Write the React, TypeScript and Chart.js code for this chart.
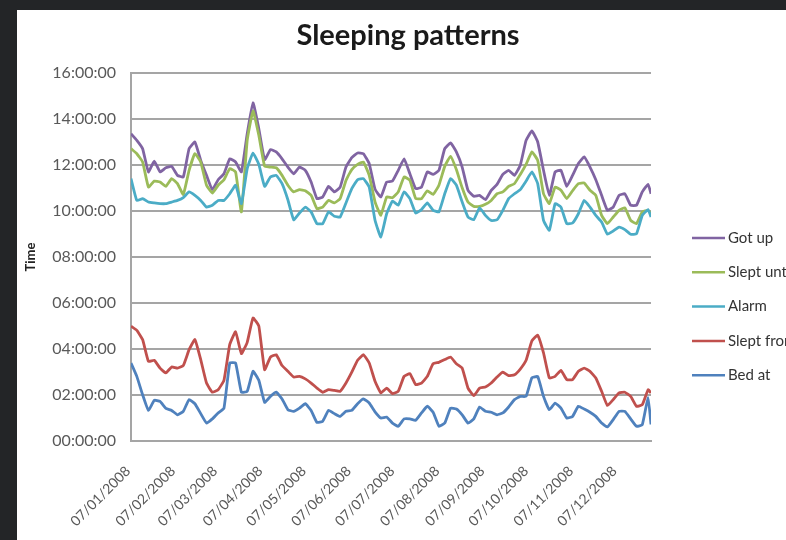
import React, { useEffect, useRef } from 'react';
import { Chart, registerables } from 'chart.js';

Chart.register(...registerables);

// Day index counted from 07/01/2008 (day 0), sampled every 4 days
const days = [
  0, 4, 8, 12, 16, 20, 24, 28, 32, 36, 40, 44, 48, 52, 56, 60, 64, 68, 72, 76,
  80, 84, 88, 92, 96, 100, 104, 108, 112, 116, 120, 124, 128, 132, 136, 140, 144, 148, 152, 156,
  160, 164, 168, 172, 176, 180, 184, 188, 192, 196, 200, 204, 208, 212, 216, 220, 224, 228, 232, 236,
  240, 244, 248, 252, 256, 260, 264, 268, 272, 276, 280, 284, 288, 292, 296, 300, 304, 308, 312, 316,
  320, 324, 328, 332, 336, 340, 344, 348, 352, 356, 358,
];

// Values in hours of the day
const gotUp = [
  13.36, 13.07, 12.71, 11.7, 12.17, 11.7, 11.88, 11.94, 11.55, 11.48, 12.71, 13.0, 12.2, 11.55, 10.93, 11.36, 11.62, 12.27, 12.13, 11.7,
  13.36, 14.7, 13.58, 12.23, 12.67, 12.57, 12.27, 11.91, 11.62, 11.91, 11.77, 11.26, 10.54, 10.61, 11.07, 10.83, 11.04, 11.91, 12.32, 12.52,
  12.49, 12.06, 10.95, 10.61, 11.26, 11.3, 11.77, 12.27, 11.62, 10.97, 11.04, 11.7, 11.59, 11.77, 12.71, 12.96, 12.57, 11.91, 10.9, 10.64,
  10.68, 10.49, 10.9, 11.16, 11.59, 11.77, 11.55, 11.99, 13.07, 13.48, 13.0, 11.77, 10.68, 11.7, 11.77, 11.07, 11.55, 12.06, 12.35, 11.91,
  11.36, 10.68, 10.03, 10.17, 10.68, 10.75, 10.25, 10.25, 10.83, 11.16, 10.75,
];

const sleptUntil = [
  12.71, 12.49, 12.13, 11.04, 11.3, 11.26, 11.07, 11.41, 11.19, 10.72, 11.77, 12.49, 12.13, 11.12, 10.78, 11.12, 11.36, 11.84, 11.7, 9.96,
  13.07, 14.35, 13.29, 11.94, 11.91, 11.88, 11.55, 11.12, 10.83, 10.93, 10.88, 10.68, 10.1, 10.17, 10.46, 10.35, 10.54, 11.33, 11.8, 12.03,
  12.13, 11.55, 10.4, 9.81, 10.61, 10.58, 10.83, 11.48, 11.33, 10.54, 10.54, 10.88, 10.72, 11.12, 11.94, 12.38, 11.8, 11.01, 10.39, 10.2,
  10.2, 10.29, 10.46, 10.75, 10.83, 11.07, 11.19, 11.59, 12.03, 12.57, 12.2, 10.75, 10.32, 11.04, 10.9, 10.54, 10.88, 11.19, 11.22, 10.9,
  10.68, 9.81, 9.45, 9.74, 10.03, 10.14, 9.59, 9.45, 9.96, 10.03, 9.88,
];

const alarm = [
  11.41, 10.46, 10.54, 10.39, 10.35, 10.32, 10.32, 10.39, 10.46, 10.58, 10.83, 10.68, 10.46, 10.17, 10.25, 10.46, 10.46, 10.75, 11.12, 10.32,
  11.84, 12.52, 12.03, 11.07, 11.48, 11.55, 11.19, 10.49, 9.62, 9.91, 10.17, 9.96, 9.45, 9.45, 9.96, 9.77, 9.74, 10.35, 10.97, 11.36,
  11.41, 11.04, 9.6, 8.87, 9.88, 10.43, 10.25, 10.83, 10.54, 9.91, 10.06, 10.35, 10.03, 9.96, 10.75, 11.41, 11.12, 10.39, 9.74, 9.62,
  10.14, 9.81, 9.59, 9.62, 10.03, 10.54, 10.75, 10.93, 11.3, 11.7, 11.19, 9.59, 9.16, 10.32, 10.17, 9.45, 9.48, 9.88, 10.46, 10.17,
  9.81, 9.52, 8.99, 9.13, 9.3, 9.19, 8.99, 9.01, 9.81, 10.06, 9.74,
];

const sleptFrom = [
  4.99, 4.81, 4.41, 3.46, 3.51, 3.17, 2.96, 3.22, 3.17, 3.28, 3.97, 4.41, 3.54, 2.52, 2.12, 2.23, 2.64, 4.2, 4.75, 3.8,
  4.29, 5.35, 5.0, 3.1, 3.65, 3.75, 3.28, 3.03, 2.78, 2.81, 2.7, 2.52, 2.3, 2.12, 2.23, 2.2, 2.16, 2.52, 2.99, 3.51,
  3.75, 3.39, 2.6, 2.09, 2.3, 2.06, 2.16, 2.81, 2.93, 2.45, 2.52, 2.81, 3.36, 3.42, 3.54, 3.65, 3.36, 3.17, 2.3, 1.97,
  2.3, 2.35, 2.52, 2.78, 2.99, 2.84, 2.88, 3.13, 3.51, 4.35, 4.6, 3.83, 2.74, 2.81, 3.07, 2.67, 2.67, 3.03, 3.17, 3.03,
  2.74, 2.16, 1.54, 1.8, 2.09, 2.12, 1.94, 1.51, 1.58, 2.23, 2.09,
];

const bedAt = [
  3.39, 2.81, 2.01, 1.33, 1.77, 1.72, 1.42, 1.33, 1.14, 1.29, 1.8, 1.62, 1.19, 0.78, 0.96, 1.22, 1.43, 3.39, 3.39, 2.12,
  2.16, 3.03, 2.64, 1.68, 1.94, 2.12, 1.83, 1.36, 1.29, 1.43, 1.62, 1.33, 0.81, 0.86, 1.33, 1.19, 1.07, 1.29, 1.33, 1.62,
  1.83, 1.65, 1.27, 1.0, 1.04, 0.78, 0.64, 0.96, 0.96, 0.9, 1.22, 1.51, 1.25, 0.64, 0.78, 1.43, 1.39, 1.14, 0.78, 0.96,
  1.48, 1.29, 1.25, 1.14, 1.22, 1.48, 1.8, 1.94, 1.94, 2.75, 2.8, 1.94, 1.36, 1.65, 1.43, 1.0, 1.07, 1.51, 1.39, 1.25,
  1.07, 0.78, 0.61, 0.93, 1.29, 1.29, 0.96, 0.64, 0.71, 1.9, 0.72,
];

const seriesNames = ['Got up', 'Slept until', 'Alarm', 'Slept from', 'Bed at'];
const seriesColors = ['#8064A2', '#9BBB59', '#4BACC6', '#C0504D', '#4F81BD'];

const monthTickDays = [0, 31, 60, 91, 121, 152, 182, 213, 244, 274, 305, 335];
const monthTickLabels = [
  '07/01/2008', '07/02/2008', '07/03/2008', '07/04/2008', '07/05/2008', '07/06/2008',
  '07/07/2008', '07/08/2008', '07/09/2008', '07/10/2008', '07/11/2008', '07/12/2008',
];

const hourTicks = [0, 2, 4, 6, 8, 10, 12, 14, 16];
const hourTickLabels = [
  '00:00:00', '02:00:00', '04:00:00', '06:00:00', '08:00:00',
  '10:00:00', '12:00:00', '14:00:00', '16:00:00',
];

const sideLegend = {
  id: 'sideLegend',
  afterDraw(chart: any) {
    const { ctx, chartArea } = chart;
    const x0 = chartArea.right + 41;
    const y0 = chartArea.top + 165;
    chart.data.datasets.forEach((ds: any, i: number) => {
      const y = y0 + i * 34.3;
      ctx.save();
      ctx.strokeStyle = ds.borderColor;
      ctx.lineWidth = 2.5;
      ctx.beginPath();
      ctx.moveTo(x0, y);
      ctx.lineTo(x0 + 33, y);
      ctx.stroke();
      ctx.fillStyle = '#333333';
      ctx.font = '15px Lato';
      ctx.textBaseline = 'middle';
      ctx.textAlign = 'left';
      ctx.fillText(ds.label, x0 + 36, y);
      ctx.restore();
    });
  },
};

export default function App() {
  const ref = useRef<HTMLCanvasElement>(null);

  useEffect(() => {
    const allSeries = [gotUp, sleptUntil, alarm, sleptFrom, bedAt];
    const datasets = allSeries.map((vals, si) => ({
      label: seriesNames[si],
      data: days.map((d, i) => ({ x: d, y: vals[i] })),
      borderColor: seriesColors[si],
      backgroundColor: seriesColors[si],
      borderWidth: 2.8,
      pointRadius: 0,
      tension: 0.12,
      fill: false,
      order: seriesNames.length - si,
    }));

    const chart = new Chart(ref.current as HTMLCanvasElement, {
      type: 'line',
      data: { datasets },
      options: {
        responsive: false,
        animation: false,
        layout: { padding: 0 },
        plugins: {
          legend: { display: false },
          tooltip: { enabled: false },
          title: {
            display: true,
            text: 'Sleeping patterns',
            color: '#1a1a1a',
            font: { family: 'Lato', size: 29, weight: 'bold' },
            padding: { top: 8.4, bottom: 19.8 },
          },
        },
        scales: {
          x: {
            type: 'linear',
            min: 0,
            max: 358,
            afterBuildTicks: (s: any) => {
              s.ticks = monthTickDays.map((v) => ({ value: v }));
            },
            afterFit: (s: any) => {
              s.height = 99;
            },
            grid: { display: false, drawTicks: false },
            border: { display: true, color: '#a5a5a5', width: 2 },
            ticks: {
              autoSkip: false,
              minRotation: 45,
              maxRotation: 45,
              padding: 22,
              labelOffset: -3,
              color: '#595959',
              font: { family: 'Lato', size: 14 },
              callback: (_v: any, i: number) => monthTickLabels[i],
            },
          },
          y: {
            type: 'linear',
            position: 'left',
            min: 0,
            max: 16,
            afterBuildTicks: (s: any) => {
              s.ticks = hourTicks.map((v) => ({ value: v }));
            },
            afterFit: (s: any) => {
              s.width = 114;
            },
            grid: { color: '#a5a5a5', lineWidth: 2, drawTicks: false },
            border: { display: true, color: '#a5a5a5', width: 2 },
            ticks: {
              padding: 15,
              color: '#595959',
              font: { family: 'Lato', size: 16 },
              callback: (_v: any, i: number) => hourTickLabels[i],
            },
            title: {
              display: true,
              text: 'Time',
              color: '#222222',
              font: { family: 'Lato', size: 13, weight: 'bold' },
              padding: { top: 6, bottom: 0 },
            },
          },
          legendSpace: {
            type: 'linear',
            position: 'right',
            min: 0,
            max: 16,
            display: true,
            afterFit: (s: any) => {
              s.width = 148;
            },
            grid: { display: false, drawTicks: false },
            border: { display: false },
            ticks: { display: false },
          },
        },
      },
      plugins: [sideLegend],
    } as any);

    return () => chart.destroy();
  }, []);

  return (
    <div
      style={{
        position: 'fixed',
        left: 0,
        top: 0,
        width: 786,
        height: 540,
        background: '#232527',
        overflow: 'hidden',
      }}
    >
      <div
        style={{
          position: 'absolute',
          left: 17,
          top: 10,
          width: 782,
          height: 530,
          background: '#ffffff',
        }}
      >
        <canvas ref={ref} width={782} height={530} style={{ display: 'block', width: 782, height: 530 }} />
      </div>
    </div>
  );
}
